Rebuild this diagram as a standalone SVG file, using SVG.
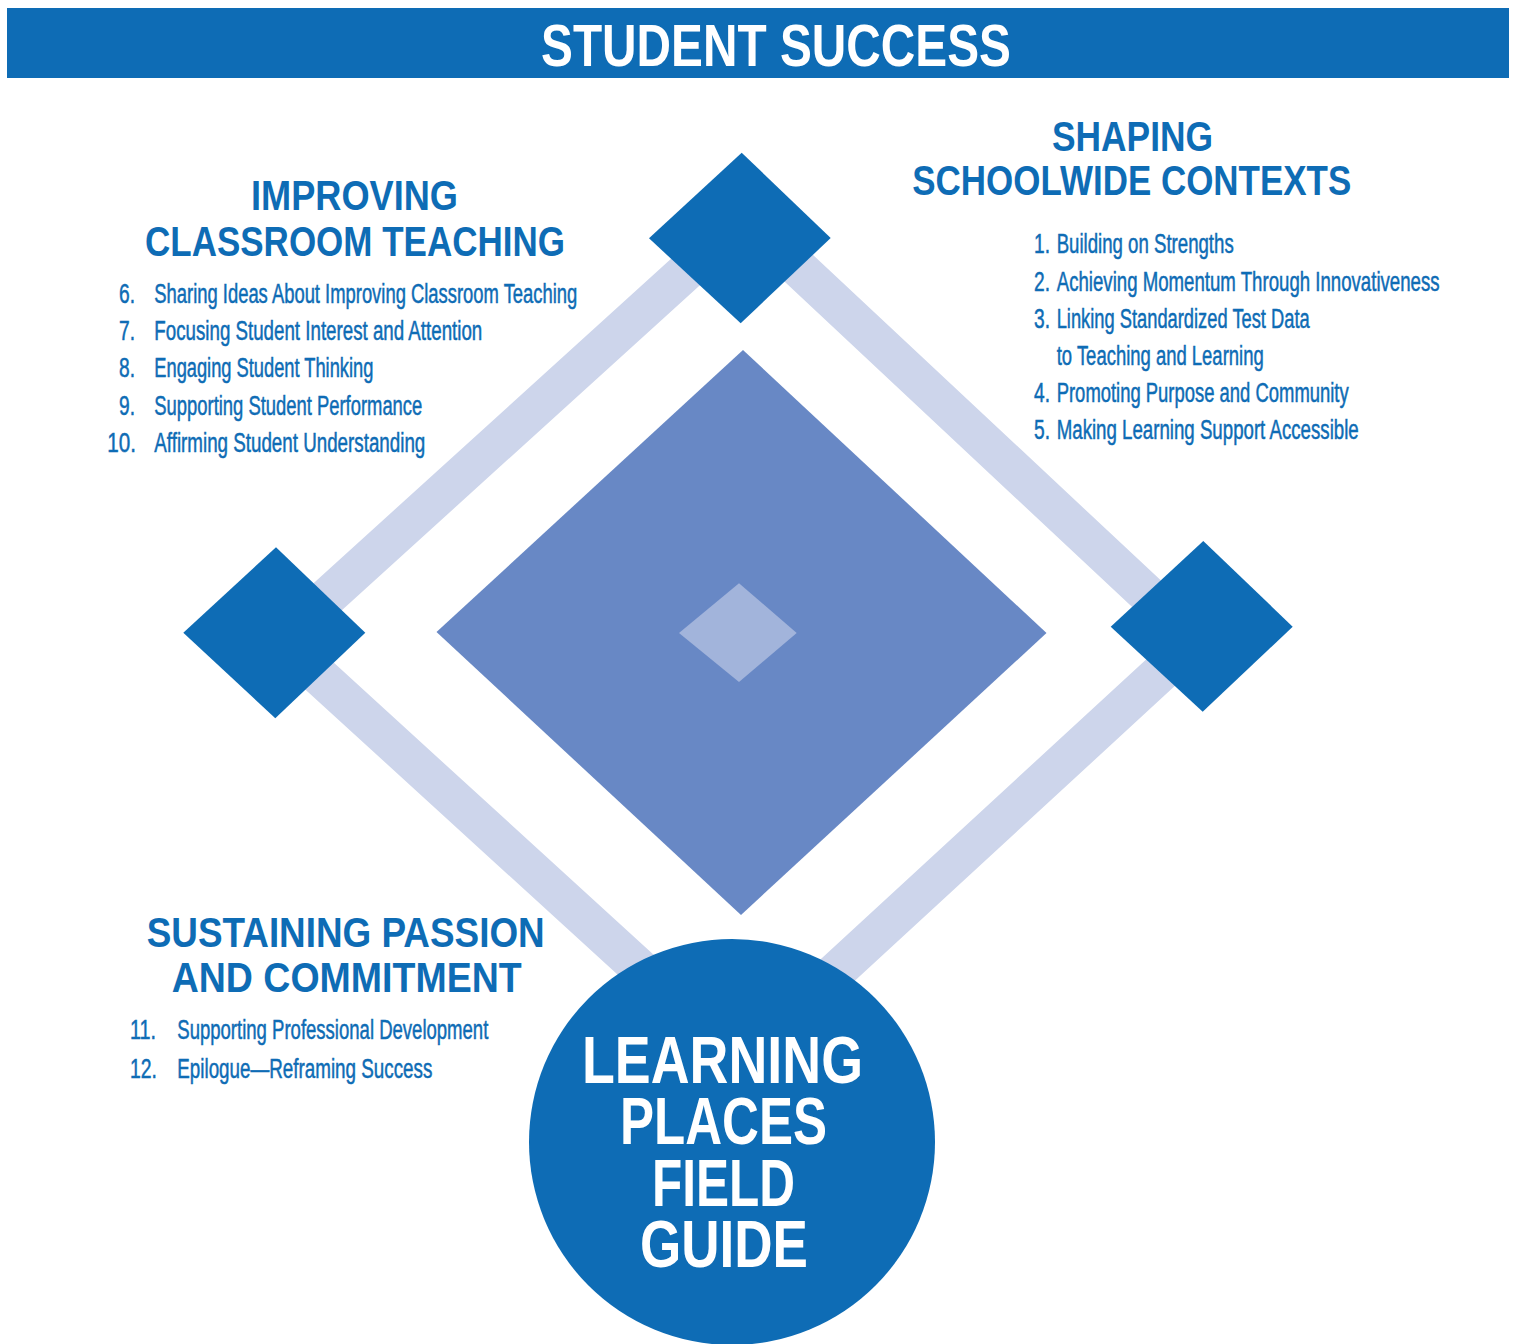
<svg xmlns="http://www.w3.org/2000/svg" width="1516" height="1344" viewBox="0 0 1516 1344">
  <style>
    .blue { fill: #0E6CB5; }
    .core { fill: #6888C5; }
    .heart { fill: #A2B4DB; }
    .bar { fill: none; stroke: #CDD5EB; stroke-width: 39; stroke-linejoin: miter; }
    .head { font-family: "Liberation Sans", Arial, sans-serif; font-weight: bold; fill: #0E6CB5; font-size: 42px; }
    .banner { font-family: "Liberation Sans", Arial, sans-serif; font-weight: bold; fill: #FFFFFF; font-size: 59px; }
    .hub { font-family: "Liberation Sans", Arial, sans-serif; font-weight: bold; fill: #FFFFFF; font-size: 67px; }
    .item, .num { font-family: "Liberation Sans", Arial, sans-serif; fill: #0E6CB5; font-size: 27px; stroke: #0E6CB5; stroke-width: 0.5; }
  </style>

  <!-- top banner -->
  <g id="banner">
    <rect class="blue" x="7" y="8" width="1502" height="70"/>
    <text class="banner" x="541" y="66" textLength="470" lengthAdjust="spacingAndGlyphs">STUDENT SUCCESS</text>
  </g>

  <!-- light bands joining the corner diamonds -->
  <g id="connectors">
    <path class="bar" d="M745,218 L280,640 L740,1060 L1196,640 Z"/>
  </g>

  <!-- corner diamonds -->
  <g id="diamond-top">
    <polygon class="blue" points="741.7,152.7 830.7,238 740.7,323.3 649,238.3"/>
  </g>
  <g id="diamond-left">
    <polygon class="blue" points="276,547.3 365.3,632.7 275.3,718.3 183.3,632.7"/>
  </g>
  <g id="diamond-right">
    <polygon class="blue" points="1203.3,541 1292.7,626.7 1202.7,711.7 1110.7,626.7"/>
  </g>

  <!-- central diamond with inner core -->
  <g id="core">
    <polygon class="core" points="743,350 1046.5,633 741,915 436.5,632"/>
    <polygon class="heart" points="739,583.3 796.7,633 739,682 679,633"/>
  </g>

  <!-- hub circle with its four-line title set as one block -->
  <g id="hub">
    <circle class="blue" cx="732" cy="1142" r="203"/>
    <text class="hub">
      <tspan x="582" y="1083" textLength="281" lengthAdjust="spacingAndGlyphs">LEARNING</tspan>
      <tspan x="620" y="1144" textLength="207" lengthAdjust="spacingAndGlyphs">PLACES</tspan>
      <tspan x="652" y="1206" textLength="143" lengthAdjust="spacingAndGlyphs">FIELD</tspan>
      <tspan x="640" y="1266.5" textLength="168" lengthAdjust="spacingAndGlyphs">GUIDE</tspan>
    </text>
  </g>

  <!-- classroom teaching -->
  <g id="classroom-teaching">
    <text class="head" x="251" y="210" textLength="207" lengthAdjust="spacingAndGlyphs">IMPROVING</text>
    <text class="head" x="145" y="256" textLength="420" lengthAdjust="spacingAndGlyphs">CLASSROOM TEACHING</text>
    <text class="num" x="119" y="302.7" textLength="16" lengthAdjust="spacingAndGlyphs">6.</text>
    <text class="item" x="154.3" y="302.7" textLength="423" lengthAdjust="spacingAndGlyphs">Sharing Ideas About Improving Classroom Teaching</text>
    <text class="num" x="119" y="340" textLength="16" lengthAdjust="spacingAndGlyphs">7.</text>
    <text class="item" x="154.3" y="340" textLength="328" lengthAdjust="spacingAndGlyphs">Focusing Student Interest and Attention</text>
    <text class="num" x="119" y="377.2" textLength="16" lengthAdjust="spacingAndGlyphs">8.</text>
    <text class="item" x="154.3" y="377.2" textLength="219" lengthAdjust="spacingAndGlyphs">Engaging Student Thinking</text>
    <text class="num" x="119" y="414.5" textLength="16" lengthAdjust="spacingAndGlyphs">9.</text>
    <text class="item" x="154.3" y="414.5" textLength="268" lengthAdjust="spacingAndGlyphs">Supporting Student Performance</text>
    <text class="num" x="107.3" y="451.7" textLength="28.7" lengthAdjust="spacingAndGlyphs">10.</text>
    <text class="item" x="154.3" y="451.7" textLength="271" lengthAdjust="spacingAndGlyphs">Affirming Student Understanding</text>
  </g>

  <!-- schoolwide contexts -->
  <g id="schoolwide-contexts">
    <text class="head" x="1052" y="150.7" textLength="161" lengthAdjust="spacingAndGlyphs">SHAPING</text>
    <text class="head" x="912.3" y="195" textLength="439" lengthAdjust="spacingAndGlyphs">SCHOOLWIDE CONTEXTS</text>
    <text class="num" x="1034" y="253.3" textLength="16" lengthAdjust="spacingAndGlyphs">1.</text>
    <text class="item" x="1056.7" y="253.3" textLength="177" lengthAdjust="spacingAndGlyphs">Building on Strengths</text>
    <text class="num" x="1034" y="290.5" textLength="16" lengthAdjust="spacingAndGlyphs">2.</text>
    <g transform="translate(1056.7,290.5) scale(0.7,1)">
      <text class="item" x="0" y="0" textLength="547" lengthAdjust="spacingAndGlyphs">Achieving Momentum Through Innovativeness</text>
    </g>
    <text class="num" x="1034" y="327.7" textLength="16" lengthAdjust="spacingAndGlyphs">3.</text>
    <text class="item" x="1056.7" y="327.7" textLength="253" lengthAdjust="spacingAndGlyphs">Linking Standardized Test Data</text>
    <text class="item" x="1056.7" y="365" textLength="207" lengthAdjust="spacingAndGlyphs">to Teaching and Learning</text>
    <text class="num" x="1034" y="401.9" textLength="16" lengthAdjust="spacingAndGlyphs">4.</text>
    <text class="item" x="1056.7" y="401.9" textLength="292" lengthAdjust="spacingAndGlyphs">Promoting Purpose and Community</text>
    <text class="num" x="1034" y="439.3" textLength="16" lengthAdjust="spacingAndGlyphs">5.</text>
    <text class="item" x="1056.7" y="439.3" textLength="302" lengthAdjust="spacingAndGlyphs">Making Learning Support Accessible</text>
  </g>

  <!-- passion and commitment -->
  <g id="passion-commitment">
    <text class="head" x="146.7" y="946.7" textLength="398" lengthAdjust="spacingAndGlyphs">SUSTAINING PASSION</text>
    <text class="head" x="171.7" y="991.7" textLength="350" lengthAdjust="spacingAndGlyphs">AND COMMITMENT</text>
    <text class="num" x="130" y="1039.3" textLength="26" lengthAdjust="spacingAndGlyphs">11.</text>
    <text class="item" x="177.3" y="1039.3" textLength="311" lengthAdjust="spacingAndGlyphs">Supporting Professional Development</text>
    <text class="num" x="130" y="1077.7" textLength="27" lengthAdjust="spacingAndGlyphs">12.</text>
    <text class="item" x="177.3" y="1077.7" textLength="255" lengthAdjust="spacingAndGlyphs">Epilogue—Reframing Success</text>
  </g>
</svg>
